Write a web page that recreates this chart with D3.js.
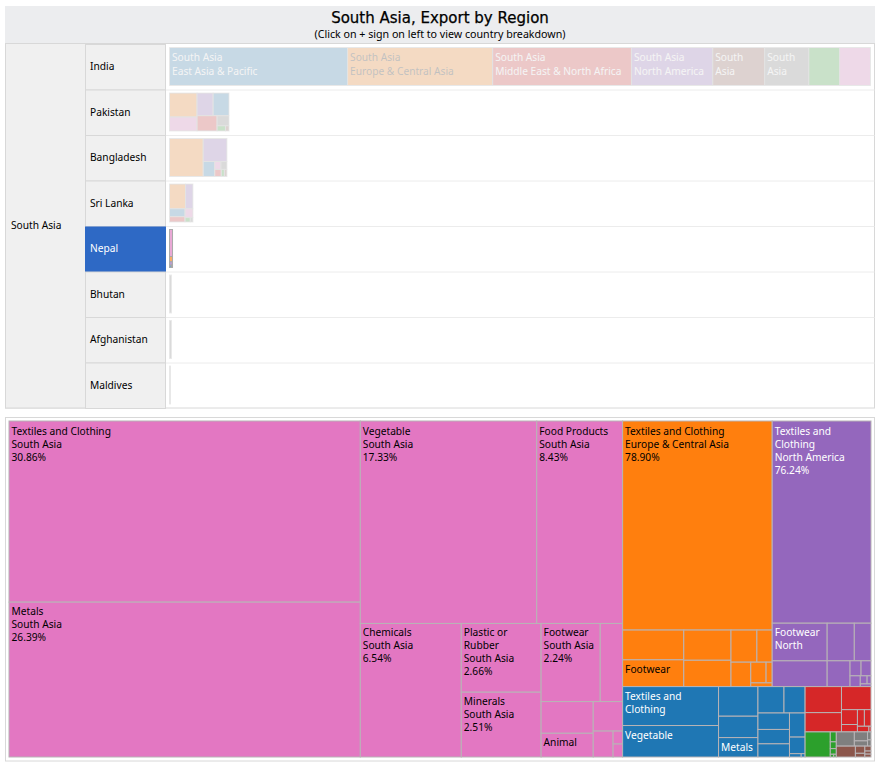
<!DOCTYPE html>
<html>
<head>
<meta charset="utf-8">
<title>South Asia, Export by Region</title>
<script src="https://d3js.org/d3.v7.min.js"></script>
<style>
    body { margin: 0; background: #fff; }
    text { font-family: "Noto Sans", Tahoma, sans-serif; font-size: 10.2px; }
</style>
</head>
<body>
<div id="chart"></div>
<script>
// regions, order follows the category10 colours
var regionNames = ["East Asia & Pacific", "Europe & Central Asia", "Sub-Saharan Africa", "Middle East & North Africa",
    "North America", "Latin America & Caribbean", "South Asia", "Other"];

var countries = ["India", "Pakistan", "Bangladesh", "Sri Lanka", "Nepal", "Bhutan", "Afghanistan", "Maldives"];
var countryTotals = [100, 8.49, 8.19, 3.34, 0.43, 0.28, 0.28, 0.14];
var selectedCountry = "Nepal";

// top panel, share of each region per country
var indiaRegions = [0, 1, 3, 4, 5, 7, 2, 6];
var indiaShares = [25.4, 20.7, 19.8, 11.6, 7.4, 6.3, 4.4, 4.4];
var indiaLabels = ["South Asia|East Asia & Pacific", "South Asia|Europe & Central Asia", "South Asia|Middle East & North Africa",
    "South Asia|North America", "South|Asia", "South|Asia", "", ""];
var pakistanRegions = [1, 6, 4, 0, 3, 7, 2, 5];
var pakistanShares = [28.7, 16.7, 15.8, 15.6, 13.3, 5.2, 1.9, 0.8];
var bangladeshRegions = [1, 4, 0, 6, 7, 3, 2, 5];
var bangladeshShares = [58, 24.6, 7.8, 2.2, 2.15, 2.1, 1, 0.8];
var sriLankaRegions = [1, 4, 0, 3, 6, 2, 7];
var sriLankaShares = [44.5, 20.6, 13.9, 9.3, 7.8, 2.6, 1.3];
var nepalRegions = [6, 1, 4, 0, 3, 2, 7, 5];
var nepalShares = [71.1, 13.7, 9.05, 4.43, 1.03, 0.27, 0.17, 0.13];
var bhutanRegions = [7];
var bhutanShares = [100];
var afghanistanRegions = [7];
var afghanistanShares = [100];
var maldivesRegions = [7];
var maldivesShares = [100];

var countryRegions = [indiaRegions, pakistanRegions, bangladeshRegions, sriLankaRegions, nepalRegions, bhutanRegions, afghanistanRegions, maldivesRegions];
var countryShares = [indiaShares, pakistanShares, bangladeshShares, sriLankaShares, nepalShares, bhutanShares, afghanistanShares, maldivesShares];

// bottom panel, Nepal: product shares inside each region, same order as nepalRegions
var southAsiaShares = [30.86, 26.39, 17.33, 8.43, 6.54, 2.66, 2.51, 2.24, 0.85, 0.8, 0.6, 0.42, 0.25, 0.06, 0.06];
var southAsiaLabels = ["Textiles and Clothing|South Asia|30.86%", "Metals|South Asia|26.39%", "Vegetable|South Asia|17.33%",
    "Food Products|South Asia|8.43%", "Chemicals|South Asia|6.54%", "Plastic or|Rubber|South Asia|2.66%",
    "Minerals|South Asia|2.51%", "Footwear|South Asia|2.24%", "", "", "Animal"];
var europeShares = [78.9, 4.6, 4.13, 3.6, 3.14, 2.1, 1.24, 1.22, 0.8, 0.32, 0.2];
var europeLabels = ["Textiles and Clothing|Europe & Central Asia|78.90%", "", "Footwear"];
var northAmericaShares = [76.24, 7.9, 5.4, 3.9, 2.4, 2.25, 0.63, 0.57, 0.42, 0.21, 0.12, 0.11];
var northAmericaLabels = ["Textiles and|Clothing|North America|76.24%", "Footwear|North"];
var eastAsiaShares = [28.8, 23.3, 9, 6.5, 5.9, 5.3, 4.3, 4, 3.5, 3.2, 2.9, 2, 0.3, 0.1];
var eastAsiaLabels = ["Textiles and|Clothing", "Vegetable", "", "", "Metals"];
var middleEastShares = [32, 23.7, 23, 8, 4, 3.9, 3.7, 2.2, 0.4];
var africaShares = [80.2, 7.6, 5.2, 4.3, 1.2, 0.9];
var otherShares = [52, 24, 14, 5.6, 4.4];
var latinAmericaShares = [55, 18, 9.3, 8, 5, 4.7];

var nepalProducts = [southAsiaShares, europeShares, northAmericaShares, eastAsiaShares, middleEastShares, africaShares, otherShares, latinAmericaShares];
var nepalLabels = [southAsiaLabels, europeLabels, northAmericaLabels, eastAsiaLabels, [], [], [], []];

var width = 880, height = 765;
var color = d3.scaleOrdinal(regionNames, d3.schemeCategory10);
var labelColor = (name) => d3.lab(color(name)).l > 60 ? "#000" : "#fff";

var svg = d3.select("#chart").append("svg")
    .attr("width", width)
    .attr("height", height);

// frame of the top panel
var rows = d3.scaleBand().domain(countries).range([44, 408]);
var regionCol = { x: 5.5, w: 80 }, countryCol = { x: 85.5, w: 80 }, mapX = 169.5, mapW = 701;
var mapWidth = d3.scaleLinear().domain([0, 100]).range([0, mapW]);

svg.append("rect").attr("x", 5).attr("y", 6).attr("width", 870).attr("height", 37).attr("fill", "#ecedef");
svg.append("text").attr("x", 440).attr("y", 23).attr("text-anchor", "middle")
    .style("font-family", "DejaVu Sans").style("font-size", "15px")
    .attr("stroke", "#000").attr("stroke-width", 0.25)
    .text("South Asia, Export by Region");
svg.append("text").attr("x", 440).attr("y", 37.5).attr("text-anchor", "middle")
    .style("font-size", "10.66px")
    .text("(Click on + sign on left to view country breakdown)");

svg.append("rect").attr("x", regionCol.x).attr("y", 43.5).attr("width", 869).attr("height", 364.5)
    .attr("fill", "#fff").attr("stroke", "#d8d8d8");
svg.append("rect").attr("x", regionCol.x).attr("y", 43.5).attr("width", regionCol.w).attr("height", 364.5)
    .attr("fill", "#f0f0f0").attr("stroke", "#d8d8d8");
svg.append("text").attr("x", 11).attr("y", 229).text("South Asia");

var row = svg.selectAll("g.row")
    .data(countries)
    .enter()
    .append("g")
    .attr("class", "row")
    .attr("transform", (d) => "translate(0, " + rows(d) + ")");

row.append("line")
    .attr("x1", countryCol.x + countryCol.w).attr("x2", 874.5)
    .attr("y1", rows.bandwidth() + 0.5).attr("y2", rows.bandwidth() + 0.5)
    .attr("stroke", (d, i) => i < countries.length - 1 ? "#ececec" : "none");
row.append("rect")
    .attr("x", countryCol.x).attr("y", (d) => d === selectedCountry ? 1 : 0.5)
    .attr("width", countryCol.w).attr("height", (d) => d === selectedCountry ? rows.bandwidth() - 0.5 : rows.bandwidth())
    .attr("fill", (d) => d === selectedCountry ? "#2e69c5" : "#f0f0f0")
    .attr("stroke", (d) => d === selectedCountry ? "#2e69c5" : "#d8d8d8");
row.append("text")
    .attr("x", 90).attr("y", rows.bandwidth() / 2 + 3.5)
    .attr("fill", (d) => d === selectedCountry ? "#fff" : "#000")
    .text((d) => d);

// small treemap of each country
row.each(function(country, i) {
    var cells = countryRegions[i].map((r, j) => ({
        region: regionNames[r],
        value: countryShares[i][j],
        label: i === 0 ? indiaLabels[j] : ""
    }));
    var root = d3.hierarchy({ children: cells }).sum((d) => d.value || 0);
    d3.treemap().size([mapWidth(countryTotals[i]), 38])(root);
    var selected = country === selectedCountry;
    // pale ground under the faded cells
    d3.select(this).append("rect")
        .attr("x", mapX).attr("y", 3.5)
        .attr("width", mapWidth(countryTotals[i])).attr("height", 38)
        .attr("fill", "#f2f2f2");
    var g = d3.select(this).append("g")
        .attr("transform", "translate(" + mapX + ", 3.5)")
        .attr("opacity", selected ? 0.6 : 0.2);
    var leaf = g.selectAll("g").data(root.leaves()).enter().append("g")
        .attr("transform", (d) => "translate(" + d.x0 + ", " + d.y0 + ")");
    leaf.append("rect")
        .attr("width", (d) => d.x1 - d.x0)
        .attr("height", (d) => d.y1 - d.y0)
        .attr("fill", (d) => color(d.data.region))
        .attr("stroke", selected ? "#777" : "#aaa");
    drawLabels(leaf, 14, 12);
});

// bottom panel
svg.append("rect").attr("x", 5.5).attr("y", 417.5).attr("width", 869).attr("height", 343.5)
    .attr("fill", "#fff").attr("stroke", "#d8d8d8");

var nepalTree = {
    children: nepalRegions.map((r, i) => {
        var products = nepalProducts[i];
        var labels = nepalLabels[i];
        var total = d3.sum(products);
        return {
            region: regionNames[r],
            children: products.map((v, j) => ({
                region: regionNames[r],
                value: nepalShares[i] * v / total,
                label: labels[j] || ""
            }))
        };
    })
};
var nepalRoot = d3.hierarchy(nepalTree).sum((d) => d.value || 0);
d3.treemap().size([862, 336])(nepalRoot);

var nepalG = svg.append("g").attr("transform", "translate(9, 421)");
var leaf = nepalG.selectAll("g").data(nepalRoot.leaves()).enter().append("g")
    .attr("transform", (d) => "translate(" + d.x0 + ", " + d.y0 + ")");
leaf.append("rect")
    .attr("width", (d) => d.x1 - d.x0)
    .attr("height", (d) => d.y1 - d.y0)
    .attr("fill", (d) => color(d.data.region))
    .attr("stroke", "#b8b4b6");
drawLabels(leaf, 13, 13);

function drawLabels(sel, lineHeight, firstLine) {
    var text = sel.append("text")
        .attr("fill", (d) => labelColor(d.data.region));
    text.selectAll("tspan")
        .data((d) => d.data.label ? d.data.label.split("|").map((s) => ({ s: s, top: d.y0 === 0 })) : [])
        .enter()
        .append("tspan")
        .attr("x", 2.5)
        .attr("y", (d, i) => firstLine + (d.top ? 1 : 0) + i * lineHeight)
        .text((d) => d.s);
}
</script>
</body>
</html>
